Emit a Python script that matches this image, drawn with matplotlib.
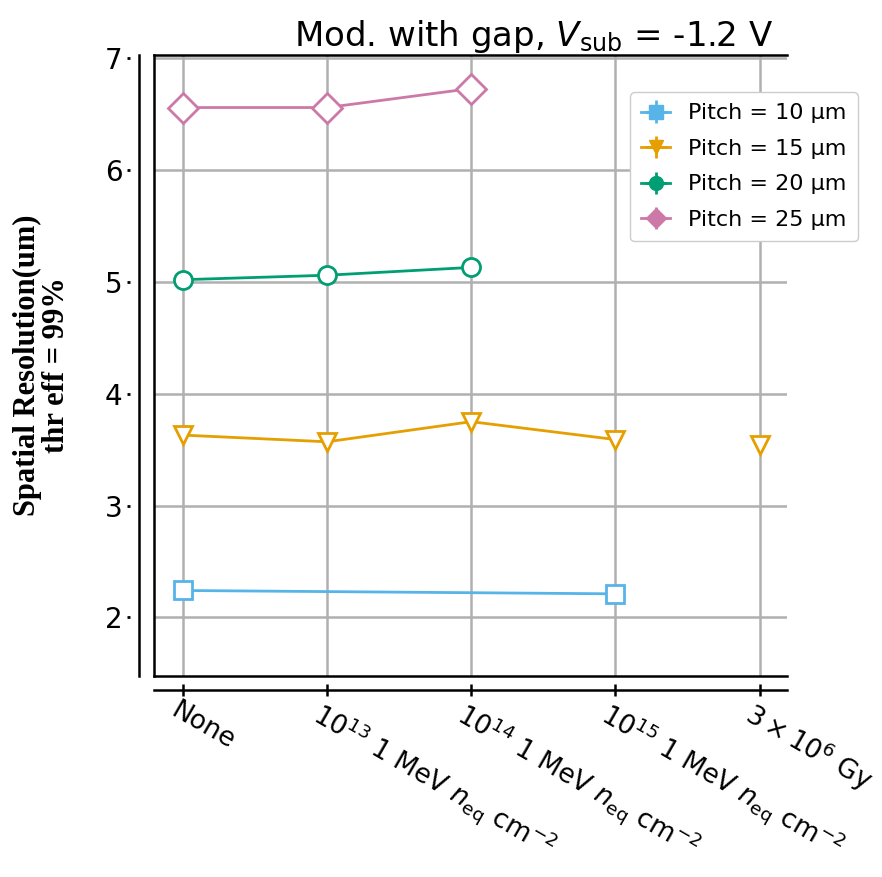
import matplotlib
matplotlib.use("Agg")
import matplotlib.pyplot as plt
import matplotlib.transforms as mtransforms
import numpy as np

# irradiation levels on the x axis
categories = ["None",
              r"$10^{13}$ 1 MeV $n_{\rm eq}$ cm$^{-2}$",
              r"$10^{14}$ 1 MeV $n_{\rm eq}$ cm$^{-2}$",
              r"$10^{15}$ 1 MeV $n_{\rm eq}$ cm$^{-2}$",
              r"$3 \times 10^{6}$ Gy"]

# spatial resolution values (um) per pitch
x_p10 = [0, 3]
res_p10 = [2.24, 2.21]
x_p15 = [0, 1, 2, 3]
res_p15 = [3.63, 3.57, 3.75, 3.59]
x_p15_gy = [4]
res_p15_gy = [3.54]
x_p20 = [0, 1, 2]
res_p20 = [5.02, 5.06, 5.13]
x_p25 = [0, 1, 2]
res_p25 = [6.56, 6.56, 6.73]

labels = ["Pitch = 10 µm", "Pitch = 15 µm", "Pitch = 20 µm", "Pitch = 25 µm"]
colors = ["#56B4E9", "#E69F00", "#009E73", "#CC79A7"]
markers = ["s", "v", "o", "D"]

fig = plt.figure(figsize=(8.82, 8.77), dpi=100)
rect = [154 / 882, 201 / 877, 633 / 882, 621 / 877]
xlim = (-0.2, 4.19)
ylim = (1.475, 7.03)

ax = fig.add_axes(rect)
ax.set_xlim(*xlim)
ax.set_ylim(*ylim)
ax.set_xticks(range(len(categories)))
ax.set_yticks([2, 3, 4, 5, 6, 7])
ax.grid(True, color="#b0b0b0", linewidth=1.8)
ax.tick_params(length=0, labelleft=False, labelbottom=False)
ax.spines["right"].set_visible(False)
for s in ["left", "top", "bottom"]:
    ax.spines[s].set_linewidth(1.8)

series = [(x_p10, res_p10), (x_p15, res_p15), (x_p20, res_p20), (x_p25, res_p25)]
for (xs, ys), c, m in zip(series, colors, markers):
    ms = 15 if m == "D" else 13
    ax.plot(xs, ys, color=c, marker=m, ms=ms, mfc="white", mec=c, mew=2, lw=2, zorder=3)
ax.plot(x_p15_gy, res_p15_gy, color=colors[1], marker="v", ms=13, mfc="white",
        mec=colors[1], mew=2, lw=0, zorder=3)

# legend proxies (error bar style handles)
handles = []
for lab, c, m in zip(labels, colors, markers):
    h = ax.errorbar([np.nan], [np.nan], yerr=[np.nan], xerr=[np.nan], color=c,
                    marker=m, ms=10, lw=2, label=lab)
    handles.append(h)
ax.legend(handles=handles, loc="upper right", bbox_to_anchor=(1.129, 0.958),
          fontsize=16, framealpha=1, handlelength=1.3, borderpad=0.5,
          labelspacing=0.7)

ax.set_title(r"Mod. with gap, $V_{\rm sub}$ = -1.2 V", fontsize=24.5, x=0.6, pad=4)

# outer axis lines with ticks
ax2 = fig.add_axes(rect, frameon=True)
ax2.patch.set_visible(False)
ax2.set_xlim(*xlim)
ax2.set_ylim(*ylim)
ax2.spines["top"].set_visible(False)
ax2.spines["right"].set_visible(False)
ax2.spines["left"].set_position(("outward", 11))
ax2.spines["bottom"].set_position(("outward", 10))
ax2.spines["left"].set_linewidth(1.8)
ax2.spines["bottom"].set_linewidth(1.8)
ax2.set_yticks([])
ax2.set_xticks(range(len(categories)))
ax2.set_xticklabels(categories, fontsize=19, rotation=-30, ha="left",
                    rotation_mode="anchor")
ax2.tick_params(axis="x", direction="inout", length=9, width=1.8, pad=1)
shift = mtransforms.ScaledTranslation(-3 / 100, 0, fig.dpi_scale_trans)
for t in ax2.get_xticklabels():
    t.set_transform(t.get_transform() + shift)

# y tick labels with small detached tick marks
ax3 = fig.add_axes(rect, frameon=True)
ax3.patch.set_visible(False)
ax3.set_xlim(*xlim)
ax3.set_ylim(*ylim)
for s in ["top", "right", "bottom"]:
    ax3.spines[s].set_visible(False)
ax3.spines["left"].set_position(("outward", 17))
ax3.spines["left"].set_visible(False)
ax3.set_xticks([])
ax3.set_yticks([2, 3, 4, 5, 6, 7])
ax3.tick_params(axis="y", length=2.5, width=2, pad=3, labelsize=20)

fig.text(42 / 882, 0.584, "Spatial Resolution(um)\nthr eff = 99%", rotation=90,
         ha="center", va="center", multialignment="center", linespacing=1.0,
         family="Liberation Serif", fontweight="bold", fontsize=22)

fig.savefig("out.png", dpi=100)
